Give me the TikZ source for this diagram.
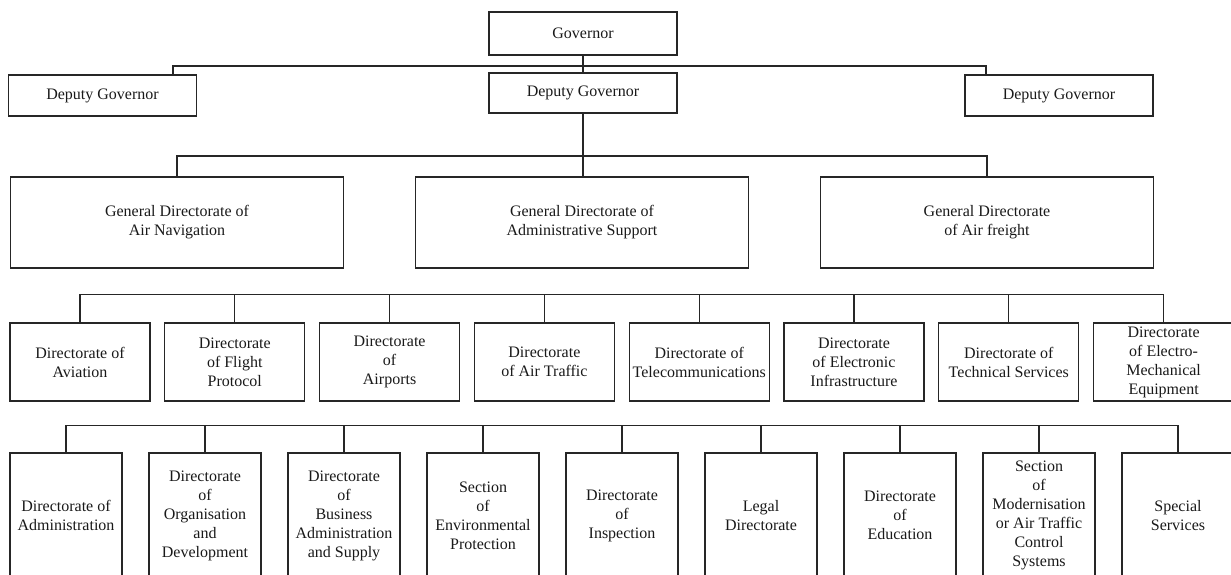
\documentclass[tikz,border=0pt]{standalone}
\usepackage{fontspec}
\setmainfont{Liberation Serif}
\begin{document}
\begin{tikzpicture}[x=1pt, y=-1pt,
        box/.style={draw=black!85, line width=1.1pt, align=center, inner sep=0pt,
            text=black!90, font=\fontsize{16}{19}\selectfont},
        topbox/.style={box, minimum width=188pt, minimum height=41pt},
        genbox/.style={box, minimum width=333pt, minimum height=91pt},
        dirbox/.style={box, minimum width=140pt, minimum height=78pt},
        secbox/.style={box, minimum width=112pt, minimum height=125pt},
        link/.style={draw=black!85, line width=1.1pt}]
            \useasboundingbox (0,0) rectangle (1231,575);
            \clip (0,0) rectangle (1231,575);

            % Draw nodes for governor and deputies
            \node[topbox, minimum height=43pt] (gov) at (583, 33.5) {Governor};
            \node[topbox] (dgl) at (102.5, 95.5) {Deputy Governor};
            \node[topbox, minimum height=40pt] (dgm) at (583, 93) {Deputy Governor};
            \node[topbox] (dgr) at (1059, 95.5) {Deputy Governor};

            % Draw nodes for general directorates
            \node[genbox] (gan) at (177, 222.5) {General Directorate of\\Air Navigation};
            \node[genbox] (gad) at (582, 222.5) {General Directorate of\\Administrative Support};
            \node[genbox] (gaf) at (987, 222.5) {General Directorate\\of Air freight};

            % Draw nodes for directorates
            \node[dirbox] (d1) at (80, 362) {Directorate of\\Aviation};
            \node[dirbox] (d2) at (234.8, 362) {Directorate\\of Flight\\Protocol};
            \node[dirbox] (d3) at (389.6, 362) {Directorate\\of\\Airports};
            \node[dirbox] (d4) at (544.4, 362) {Directorate\\of Air Traffic};
            \node[dirbox] (d5) at (699.2, 362) {Directorate of\\Telecommunications};
            \node[dirbox] (d6) at (854, 362) {Directorate\\of Electronic\\Infrastructure};
            \node[dirbox] (d7) at (1008.8, 362) {Directorate of\\Technical Services};
            \node[dirbox] (d8) at (1163.6, 362) {Directorate\\of Electro-\\Mechanical\\Equipment};

            % Draw nodes for sections and services
            \node[secbox] (s1) at (66, 515.5) {Directorate of\\Administration};
            \node[secbox] (s2) at (205, 515.5) {Directorate\\of\\Organisation\\and\\Development};
            \node[secbox] (s3) at (344, 515.5) {Directorate\\of\\Business\\Administration\\and Supply};
            \node[secbox] (s4) at (483, 515.5) {Section\\of\\Environmental\\Protection};
            \node[secbox] (s5) at (622, 515.5) {Directorate\\of\\Inspection};
            \node[secbox] (s6) at (761, 515.5) {Legal\\Directorate};
            \node[secbox] (s7) at (900, 515.5) {Directorate\\of\\Education};
            \node[secbox] (s8) at (1039, 515.5) {Section\\of\\Modernisation\\or Air Traffic\\Control\\Systems};
            \node[secbox] (s9) at (1178, 515.5) {Special\\Services};

            % Draw edges from governor to deputies
            \coordinate (govbus) at (583, 66);
            \draw[link] (gov) -- (dgm);
            \draw[link] ([xshift=70.5pt]dgl.north) |- (govbus) -| ([xshift=-73pt]dgr.north);

            % Draw edges from deputy to general directorates
            \coordinate (dgbus) at (583, 156);
            \draw[link] (dgm.south) -- (dgm.south |- gad.north);
            \draw[link] (gan.north) |- (dgbus) -| (gaf.north);

            % Draw bus over directorates
            \draw[link] (d1.north) -- ++(0,-28) -| (d8.north);
            \draw[link] (d2.north) -- ++(0,-28);
            \draw[link] (d3.north) -- ++(0,-28);
            \draw[link] (d4.north) -- ++(0,-28);
            \draw[link] (d5.north) -- ++(0,-28);
            \draw[link] (d6.north) -- ++(0,-28);
            \draw[link] (d7.north) -- ++(0,-28);

            % Draw bus over sections
            \draw[link] (s1.north) -- ++(0,-27) -| (s9.north);
            \draw[link] (s2.north) -- ++(0,-27);
            \draw[link] (s3.north) -- ++(0,-27);
            \draw[link] (s4.north) -- ++(0,-27);
            \draw[link] (s5.north) -- ++(0,-27);
            \draw[link] (s6.north) -- ++(0,-27);
            \draw[link] (s7.north) -- ++(0,-27);
            \draw[link] (s8.north) -- ++(0,-27);

        \end{tikzpicture}
\end{document}
